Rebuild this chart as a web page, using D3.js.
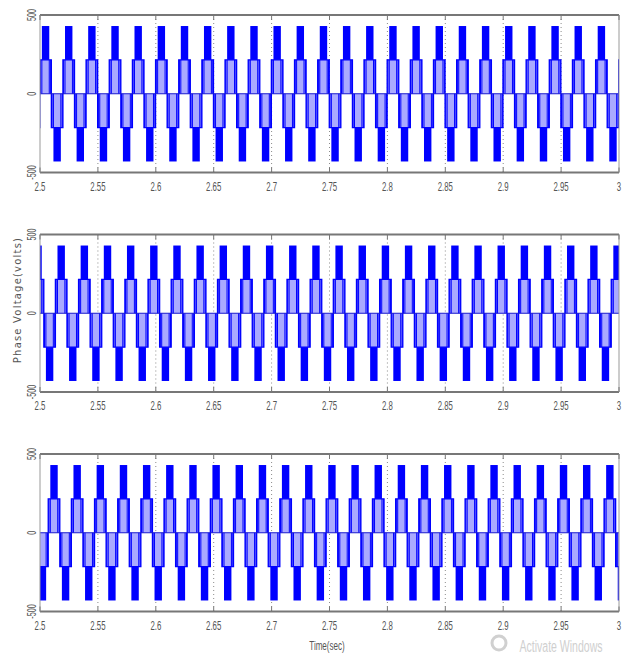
<!DOCTYPE html>
<html><head><meta charset="utf-8">
<script src="https://cdn.jsdelivr.net/npm/d3@7"></script>
<style>
html,body{margin:0;padding:0;background:#fff;}
svg{display:block;}
</style></head>
<body>
<svg id="chart" width="629" height="655"></svg>
<script>
// ---- data ----
const xTicks = [2.5, 2.55, 2.6, 2.65, 2.7, 2.75, 2.8, 2.85, 2.9, 2.95, 3];
const xTickLabels = ["2.5","2.55","2.6","2.65","2.7","2.75","2.8","2.85","2.9","2.95","3"];
const yTicks = [-500, 0, 500];
const yTickLabels = ["-500","0","500"];
const period = 0.02;                 // s (50 Hz)
const stepLevels = [0, 215, 430];    // volts: zero, first step, second step
// positive zero-crossing instants of every cycle, per phase panel
const cycles1 = [2.4798,2.4998,2.5198,2.5398,2.5598,2.5798,2.5998,2.6198,2.6398,2.6598,2.6798,2.6998,2.7198,2.7398,2.7598,2.7798,2.7998,2.8198,2.8398,2.8598,2.8798,2.8998,2.9198,2.9398,2.9598,2.9798,2.9998];
const cycles2 = [2.4933,2.5133,2.5333,2.5533,2.5733,2.5933,2.6133,2.6333,2.6533,2.6733,2.6933,2.7133,2.7333,2.7533,2.7733,2.7933,2.8133,2.8333,2.8533,2.8733,2.8933,2.9133,2.9333,2.9533,2.9733,2.9933];
const cycles3 = [2.4871,2.5071,2.5271,2.5471,2.5671,2.5871,2.6071,2.6271,2.6471,2.6671,2.6871,2.7071,2.7271,2.7471,2.7671,2.7871,2.8071,2.8271,2.8471,2.8671,2.8871,2.9071,2.9271,2.9471,2.9671,2.9871];
// switching envelope of one positive half-cycle (fractions of the period)
const firstStepSpan = [0.0, 0.5];     // PWM between 0 and first step
const secondStepSpan = [0.09, 0.41];  // dense PWM between first and second step
const edgeLines = [0.03, 0.09, 0.41, 0.47]; // visible switching lines inside first step

const panels = [
  {cycles: cycles1, top: 15},
  {cycles: cycles2, top: 234.5},
  {cycles: cycles3, top: 454}
];
const plotH = 157.5;
const left = 40, right = 619;

const svg = d3.select("#chart");
const x = d3.scaleLinear().domain([2.5, 3]).range([left, right]);

const blue = "#0000ff";
const light = "#aaaaff";

panels.forEach((p, i) => {
  const y = d3.scaleLinear().domain([-500, 500]).range([p.top + plotH, p.top]);
  const g = svg.append("g");
  const clipId = "clip" + i;
  svg.append("clipPath").attr("id", clipId).append("rect")
    .attr("x", left).attr("y", p.top).attr("width", right - left).attr("height", plotH);

  // grid (dotted vertical)
  g.selectAll(".grid").data(xTicks.slice(1, -1)).join("line")
    .attr("x1", d => x(d)).attr("x2", d => x(d))
    .attr("y1", p.top).attr("y2", p.top + plotH)
    .attr("stroke", "#8a8a8a").attr("stroke-width", 1).attr("stroke-dasharray", "1,3");

  const w = g.append("g").attr("clip-path", `url(#${clipId})`);
  const halves = [];
  p.cycles.forEach(c => {
    halves.push({c: c, sign: 1, off: 0});
    halves.push({c: c, sign: -1, off: 0.5});
  });
  // first-step light region
  w.selectAll(".mid").data(halves).join("rect")
    .attr("x", d => x(d.c + (d.off + firstStepSpan[0]) * period))
    .attr("width", d => x(d.c + (d.off + firstStepSpan[1]) * period) - x(d.c + (d.off + firstStepSpan[0]) * period))
    .attr("y", d => Math.min(y(0), y(d.sign * stepLevels[1])))
    .attr("height", d => Math.abs(y(0) - y(d.sign * stepLevels[1])))
    .attr("fill", light);
  // switching lines inside the first step
  const lines = [];
  halves.forEach(h => edgeLines.forEach(f => lines.push({t: h.c + (h.off + f) * period, sign: h.sign})));
  w.selectAll(".ln").data(lines).join("line")
    .attr("x1", d => x(d.t)).attr("x2", d => x(d.t))
    .attr("y1", y(0)).attr("y2", d => y(d.sign * stepLevels[1]))
    .attr("stroke", blue).attr("stroke-width", 1);
  // outline of the waveform (step shape)
  const line = d3.line().x(d => x(d[0])).y(d => y(d[1])).curve(d3.curveLinear);
  const pts = [];
  p.cycles.forEach(c => {
    pts.push([c, 0], [c, stepLevels[1]], [c + 0.5 * period, stepLevels[1]], [c + 0.5 * period, 0],
             [c + 0.5 * period, -stepLevels[1]], [c + period, -stepLevels[1]], [c + period, 0]);
  });
  w.append("path").attr("d", line(pts)).attr("fill", "none")
    .attr("stroke", blue).attr("stroke-width", 1.3);
  // zero level
  w.append("line").attr("x1", left).attr("x2", right).attr("y1", y(0)).attr("y2", y(0))
    .attr("stroke", "#1a1ad0").attr("stroke-width", 1);
  // second-step dense blocks
  w.selectAll(".blk").data(halves).join("rect")
    .attr("x", d => x(d.c + (d.off + secondStepSpan[0]) * period))
    .attr("width", d => x(d.c + (d.off + secondStepSpan[1]) * period) - x(d.c + (d.off + secondStepSpan[0]) * period))
    .attr("y", d => Math.min(y(d.sign * stepLevels[1]), y(d.sign * stepLevels[2])))
    .attr("height", d => Math.abs(y(d.sign * stepLevels[2]) - y(d.sign * stepLevels[1])))
    .attr("fill", blue);

  // frame
  g.append("line").attr("x1", left).attr("x2", right).attr("y1", p.top).attr("y2", p.top)
    .attr("stroke", "#777").attr("stroke-width", 2);
  g.append("line").attr("x1", left).attr("x2", right).attr("y1", p.top + plotH).attr("y2", p.top + plotH)
    .attr("stroke", "#777").attr("stroke-width", 2);
  g.append("line").attr("x1", left).attr("x2", left).attr("y1", p.top).attr("y2", p.top + plotH)
    .attr("stroke", "#999").attr("stroke-width", 1);
  g.append("line").attr("x1", right).attr("x2", right).attr("y1", p.top).attr("y2", p.top + plotH)
    .attr("stroke", "#999").attr("stroke-width", 1);
  // tick marks
  g.selectAll(".tk").data(xTicks).join("line")
    .attr("x1", d => x(d)).attr("x2", d => x(d))
    .attr("y1", p.top + plotH).attr("y2", p.top + plotH - 5)
    .attr("stroke", "#777");
  g.selectAll(".tk2").data(xTicks).join("line")
    .attr("x1", d => x(d)).attr("x2", d => x(d))
    .attr("y1", p.top).attr("y2", p.top + 5)
    .attr("stroke", "#777");

  // x tick labels (condensed)
  g.selectAll(".xl").data(xTicks).join("text")
    .attr("transform", d => `translate(${x(d)},${p.top + plotH + 18}) scale(0.6,1)`)
    .attr("text-anchor", "middle")
    .attr("font-family", "Liberation Sans, Arial, sans-serif")
    .attr("font-size", 13)
    .attr("fill", "#555")
    .text((d, j) => xTickLabels[j]);
  // y tick labels (rotated, condensed)
  g.selectAll(".yl").data(yTicks).join("text")
    .attr("transform", d => `translate(${36},${y(d)}) rotate(-90) scale(0.6,1)`)
    .attr("text-anchor", "middle")
    .attr("font-family", "Liberation Sans, Arial, sans-serif")
    .attr("font-size", 12)
    .attr("fill", "#555")
    .text((d, j) => yTickLabels[j]);
});

// axis titles
svg.append("text")
  .attr("transform", "translate(21,300) rotate(-90)")
  .attr("text-anchor", "middle")
  .attr("font-family", "DejaVu Sans, sans-serif")
  .attr("font-size", 10)
  .attr("letter-spacing", 1.2)
  .attr("fill", "#555")
  .text("Phase Voltage(volts)");
svg.append("text")
  .attr("transform", "translate(327,650) scale(0.62,1)")
  .attr("text-anchor", "middle")
  .attr("font-family", "Liberation Sans, Arial, sans-serif")
  .attr("font-size", 13)
  .attr("fill", "#555")
  .text("Time(sec)");
// watermark
svg.append("circle").attr("cx", 499).attr("cy", 643).attr("r", 7)
  .attr("fill", "none").attr("stroke", "#d0d0d0").attr("stroke-width", 3);
svg.append("text")
  .attr("transform", "translate(561,652) scale(0.62,1)")
  .attr("text-anchor", "middle")
  .attr("font-family", "Liberation Sans, Arial, sans-serif")
  .attr("font-size", 17)
  .attr("fill", "#cfcfcf")
  .text("Activate Windows");
</script>
</body></html>
